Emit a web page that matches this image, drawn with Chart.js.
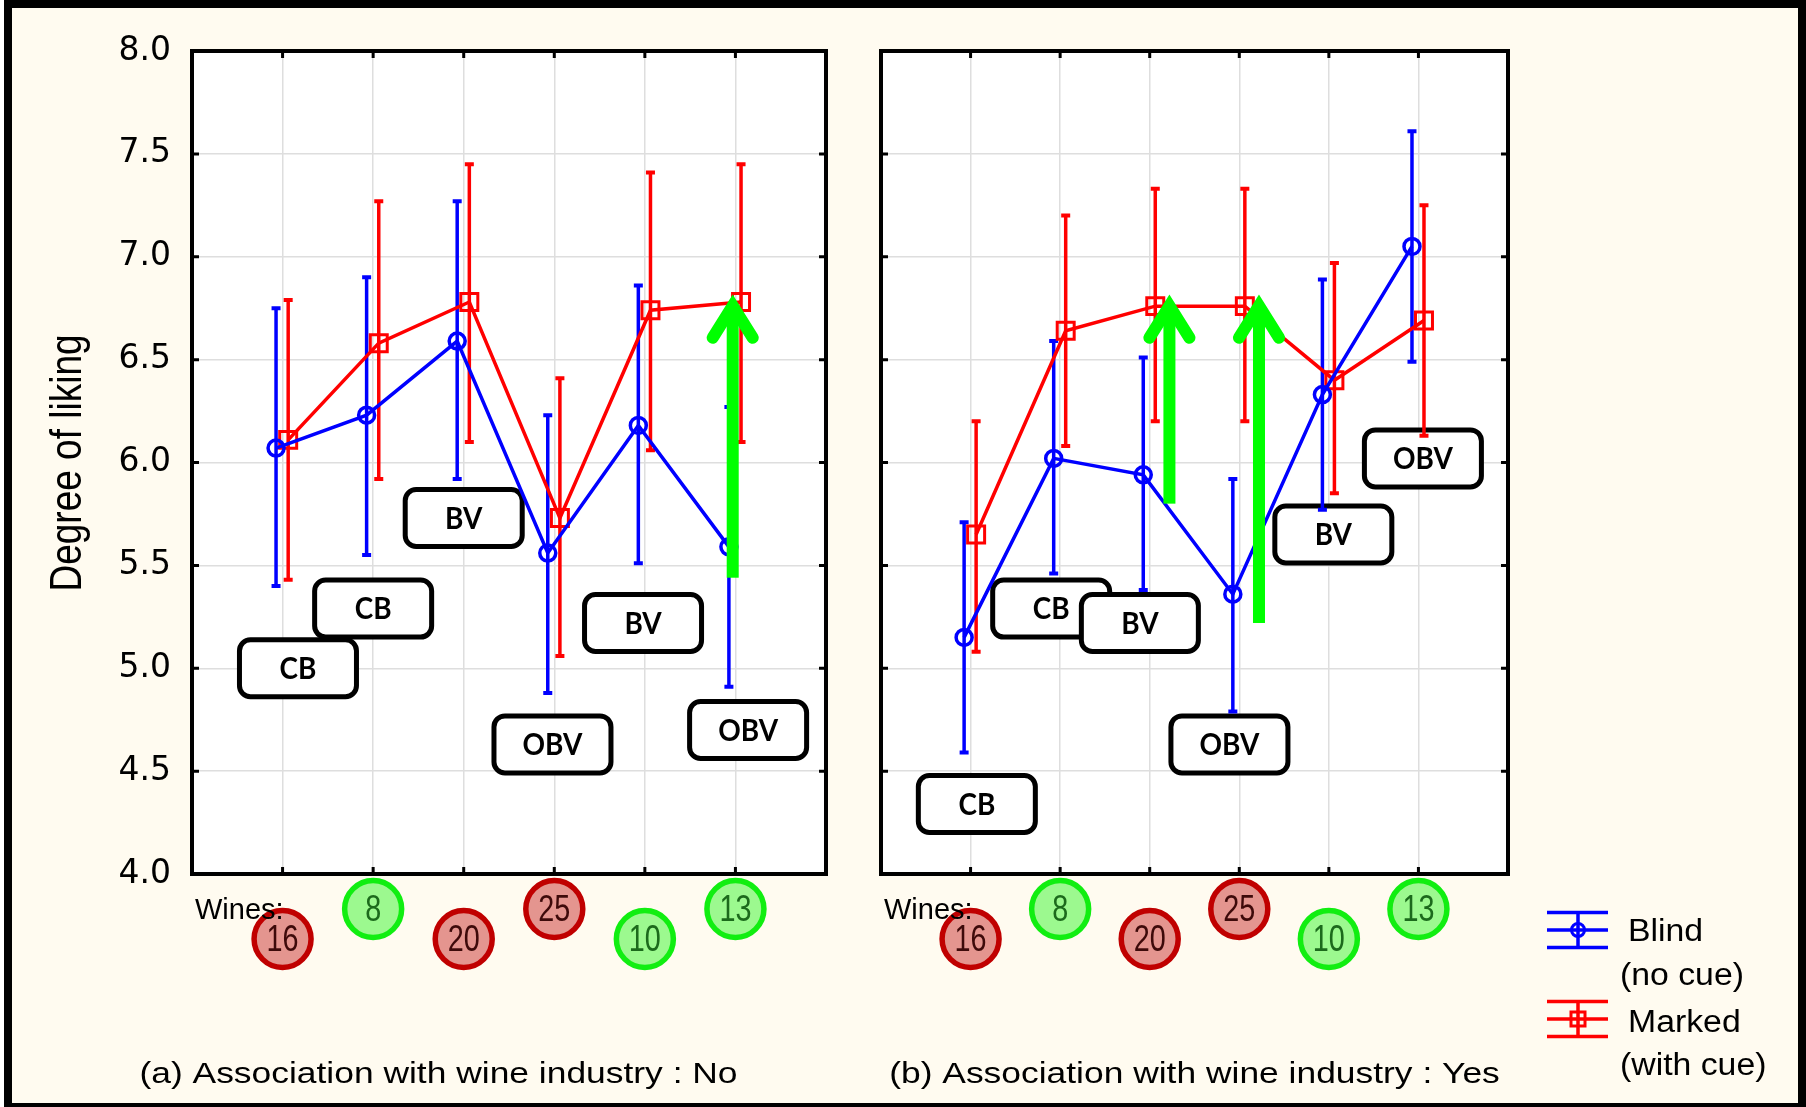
<!DOCTYPE html>
<html>
<head>
<meta charset="utf-8">
<script src="https://cdn.jsdelivr.net/npm/chart.js@4.4.1/dist/chart.umd.min.js"></script>
<style>
  html, body { margin: 0; padding: 0; width: 1806px; height: 1107px; overflow: hidden; background: #fff; }
  #frame { position: absolute; left: 4px; top: 0; width: 1786px; height: 1095px; border: 8px solid #000; background: #FFFBF0; }
  #panelA { position: absolute; left: 0; top: 0; }
  #panelB { position: absolute; left: 866px; top: 0; }
</style>
</head>
<body>
<div id="frame"></div>
<canvas id="panelA" width="877" height="1107"></canvas>
<canvas id="panelB" width="940" height="1107"></canvas>
<script>
// Wines in tasting order, their colour flag and style class
const wines = ['16', '8', '20', '25', '10', '13'];
const wineFlag = ['red', 'green', 'red', 'red', 'green', 'green'];
const wineClass = ['CB', 'CB', 'BV', 'OBV', 'BV', 'OBV'];

// Degree of liking axis
const likingTicks = [4.0, 4.5, 5.0, 5.5, 6.0, 6.5, 7.0, 7.5, 8.0];

// Series names (legend)
const blindName = ['Blind', '(no cue)'];
const markedName = ['Marked', '(with cue)'];

// Panel (a): no association with wine industry
const blindNo = [6.07, 6.23, 6.59, 5.56, 6.18, 5.59];
const blindNoLow = [5.40, 5.55, 5.92, 4.88, 5.51, 4.91];
const blindNoHigh = [6.75, 6.90, 7.27, 6.23, 6.86, 6.27];
const markedNo = [6.11, 6.58, 6.78, 5.73, 6.74, 6.78];
const markedNoLow = [5.43, 5.92, 6.10, 5.06, 6.06, 6.10];
const markedNoHigh = [6.79, 7.27, 7.45, 6.41, 7.41, 7.45];

// Panel (b): association with wine industry
const blindYes = [5.15, 6.02, 5.94, 5.36, 6.33, 7.05];
const blindYesLow = [4.59, 5.46, 5.38, 4.79, 5.77, 6.49];
const blindYesHigh = [5.71, 6.59, 6.51, 5.92, 6.89, 7.61];
const markedYes = [5.65, 6.64, 6.76, 6.76, 6.40, 6.69];
const markedYesLow = [5.08, 6.08, 6.20, 6.20, 5.85, 6.13];
const markedYesHigh = [6.20, 7.20, 7.33, 7.33, 6.97, 7.25];

// Style-class tags, anchored in data units (wine position, liking)
const tagNoAt = [1.17, 2.00, 3.00, 3.98, 4.98, 6.14];
const tagNoLevel = [5.00, 5.29, 5.73, 4.63, 5.22, 4.70];
const tagYesAt = [1.07, 1.90, 2.89, 3.89, 5.05, 6.05];
const tagYesLevel = [4.34, 5.29, 5.22, 4.63, 5.65, 6.02];

// Highlight arrows (wine position, from liking, to liking)
const arrowNoAt = [5.97];
const arrowNoFrom = [5.44];
const arrowNoTo = [6.82];
const arrowYesAt = [3.22, 4.22];
const arrowYesFrom = [5.80, 5.22];
const arrowYesTo = [6.82, 6.82];

const titleNo = '(a) Association with wine industry : No';
const titleYes = '(b) Association with wine industry : Yes';

// ---- styling ----
const BLUE = '#0000ff';
const RED = '#ff0000';
const GREEN = '#00ff00';
const GRID = '#dedede';
const SANS = '"Liberation Sans", Arial, sans-serif';
const blindShift = -0.072;
const markedShift = 0.062;

function points(values, shift) {
  return values.map((v, i) => ({ x: i + 1 + shift, y: v }));
}

function roundRectPath(ctx, x, y, w, h, r) {
  ctx.beginPath();
  ctx.moveTo(x + r, y);
  ctx.lineTo(x + w - r, y);
  ctx.arcTo(x + w, y, x + w, y + r, r);
  ctx.lineTo(x + w, y + h - r);
  ctx.arcTo(x + w, y + h, x + w - r, y + h, r);
  ctx.lineTo(x + r, y + h);
  ctx.arcTo(x, y + h, x, y + h - r, r);
  ctx.lineTo(x, y + r);
  ctx.arcTo(x, y, x + r, y, r);
  ctx.closePath();
}

function stretchedText(ctx, text, x, y, sx, align) {
  ctx.save();
  ctx.translate(x, y);
  ctx.scale(sx, 1);
  ctx.textAlign = align;
  ctx.fillText(text, 0, 0);
  ctx.restore();
}

function drawArrow(ctx, x, yTail, yTip) {
  const w = 12;
  const vy = yTip + 12;
  ctx.save();
  ctx.fillStyle = GREEN;
  ctx.fillRect(x - w / 2, vy, w, yTail - vy);
  ctx.strokeStyle = GREEN;
  ctx.lineWidth = w;
  ctx.lineCap = 'round';
  ctx.lineJoin = 'miter';
  ctx.miterLimit = 10;
  ctx.beginPath();
  ctx.moveTo(x - 20, vy + 32);
  ctx.lineTo(x, vy);
  ctx.lineTo(x + 20, vy + 32);
  ctx.stroke();
  ctx.restore();
}

function legendSymbol(ctx, cx, cy, colour, marker) {
  ctx.save();
  ctx.strokeStyle = colour;
  ctx.lineWidth = 3.5;
  ctx.beginPath();
  [-17.5, 0, 17.5].forEach(dy => { ctx.moveTo(cx - 31, cy + dy); ctx.lineTo(cx + 30, cy + dy); });
  ctx.moveTo(cx, cy - 17.5); ctx.lineTo(cx, cy + 17.5);
  ctx.stroke();
  ctx.lineWidth = 3;
  ctx.beginPath();
  if (marker === 'circle') ctx.arc(cx, cy, 6.5, 0, Math.PI * 2);
  else ctx.rect(cx - 7, cy - 7, 14, 14);
  ctx.stroke();
  ctx.restore();
}

// Draws frame, inside ticks, error bars, tags, arrows, wine badges, titles and legend
const panelDecor = {
  id: 'panelDecor',
  beforeDraw(chart) {
    const { ctx, chartArea: a } = chart;
    ctx.save();
    ctx.fillStyle = '#ffffff';
    ctx.fillRect(a.left, a.top, a.right - a.left, a.bottom - a.top);
    ctx.restore();
  },
  beforeDatasetsDraw(chart, args, o) {
    const { ctx, scales: { x, y } } = chart;
    // style-class tags
    ctx.save();
    o.tagAt.forEach((t, i) => {
      const cx = x.getPixelForValue(t);
      const cy = y.getPixelForValue(o.tagLevel[i]);
      const w = 117, h = 57;
      roundRectPath(ctx, cx - w / 2, cy - h / 2, w, h, 11);
      ctx.fillStyle = '#ffffff';
      ctx.fill();
      ctx.lineWidth = 5;
      ctx.strokeStyle = '#000000';
      ctx.stroke();
      ctx.fillStyle = '#000000';
      ctx.font = 'bold 30px Lato, "Liberation Sans", sans-serif';
      ctx.textBaseline = 'middle';
      stretchedText(ctx, wineClass[i], cx, cy + 1, 0.93, 'center');
    });
    ctx.restore();
    // error bars
    chart.data.datasets.forEach((ds, d) => {
      const meta = chart.getDatasetMeta(d);
      ctx.save();
      ctx.strokeStyle = ds.borderColor;
      meta.data.forEach((pt, j) => {
        const yl = y.getPixelForValue(ds.low[j]);
        const yh = y.getPixelForValue(ds.high[j]);
        ctx.lineWidth = 3.5;
        ctx.beginPath();
        ctx.moveTo(pt.x, yl); ctx.lineTo(pt.x, yh);
        ctx.stroke();
        ctx.lineWidth = 4;
        ctx.beginPath();
        ctx.moveTo(pt.x - 4.5, yl); ctx.lineTo(pt.x + 4.5, yl);
        ctx.moveTo(pt.x - 4.5, yh); ctx.lineTo(pt.x + 4.5, yh);
        ctx.stroke();
      });
      ctx.restore();
    });
  },
  afterDatasetsDraw(chart, args, o) {
    const { ctx, scales: { x, y } } = chart;
    o.arrowAt.forEach((v, i) => {
      drawArrow(ctx, x.getPixelForValue(v), y.getPixelForValue(o.arrowFrom[i]), y.getPixelForValue(o.arrowTo[i]));
    });
  },
  afterDraw(chart, args, o) {
    const { ctx, chartArea: a, scales: { x, y } } = chart;
    ctx.save();
    // plot frame and inward ticks
    ctx.strokeStyle = '#000000';
    ctx.lineWidth = 4;
    ctx.strokeRect(a.left, a.top, a.right - a.left, a.bottom - a.top);
    ctx.lineWidth = 3;
    ctx.beginPath();
    y.ticks.forEach(t => {
      if (t.value <= y.min || t.value >= y.max) return;
      const py = y.getPixelForValue(t.value);
      ctx.moveTo(a.left, py); ctx.lineTo(a.left + 7, py);
      ctx.moveTo(a.right, py); ctx.lineTo(a.right - 7, py);
    });
    wines.forEach((w, i) => {
      const px = x.getPixelForValue(i + 1);
      ctx.moveTo(px, a.top); ctx.lineTo(px, a.top + 7);
      ctx.moveTo(px, a.bottom); ctx.lineTo(px, a.bottom - 7);
    });
    ctx.stroke();

    // wine badges
    wines.forEach((w, i) => {
      const cx = x.getPixelForValue(i + 1);
      const cy = a.bottom + (i % 2 === 0 ? 65 : 35);
      const isRed = wineFlag[i] === 'red';
      ctx.beginPath();
      ctx.arc(cx, cy, 28.5, 0, Math.PI * 2);
      ctx.fillStyle = isRed ? '#e4958f' : '#9cf98f';
      ctx.fill();
      ctx.lineWidth = 5.5;
      ctx.strokeStyle = isRed ? '#c00000' : '#11ee11';
      ctx.stroke();
      ctx.fillStyle = isRed ? '#3e0a0a' : '#1c6a1c';
      ctx.font = '36px ' + SANS;
      ctx.textBaseline = 'middle';
      stretchedText(ctx, w, cx, cy + 2, 0.8, 'center');
    });
    ctx.fillStyle = '#000000';
    ctx.font = '29px ' + SANS;
    ctx.textBaseline = 'alphabetic';
    stretchedText(ctx, 'Wines:', a.left + 3, a.bottom + 45, 1, 'left');

    // panel caption
    ctx.font = '30px ' + SANS;
    const tx = o.captionAtCanvasCentre ? chart.width / 2 : (a.left + a.right) / 2;
    stretchedText(ctx, o.caption, tx, 1083, 1.18, 'center');

    // axis title
    if (o.axisTitle) {
      ctx.save();
      ctx.translate(69, 463);
      ctx.rotate(-Math.PI / 2);
      ctx.scale(1, 1.18);
      ctx.font = '37px ' + SANS;
      ctx.textAlign = 'center';
      ctx.textBaseline = 'middle';
      ctx.fillText(o.axisTitle, 0, 0);
      ctx.restore();
    }

    // legend
    if (o.legend) {
      const ds = chart.data.datasets;
      const sx = a.right + 70;
      legendSymbol(ctx, sx, a.bottom + 56, ds[0].borderColor, 'circle');
      legendSymbol(ctx, sx, a.bottom + 145, ds[1].borderColor, 'rect');
      ctx.fillStyle = '#000000';
      ctx.font = '31px ' + SANS;
      ctx.textBaseline = 'alphabetic';
      stretchedText(ctx, blindName[0], a.right + 120, a.bottom + 67, 1.09, 'left');
      stretchedText(ctx, blindName[1], a.right + 112, a.bottom + 111, 1.09, 'left');
      stretchedText(ctx, markedName[0], a.right + 120, a.bottom + 158, 1.09, 'left');
      stretchedText(ctx, markedName[1], a.right + 112, a.bottom + 201, 1.09, 'left');
    }
    ctx.restore();
  }
};

function panel(id, cfg) {
  return new Chart(document.getElementById(id), {
    type: 'line',
    data: {
      datasets: [
        {
          label: blindName.join(' '),
          data: points(cfg.blind, blindShift),
          low: cfg.blindLow, high: cfg.blindHigh,
          borderColor: BLUE, borderWidth: 3.5, tension: 0,
          pointStyle: 'circle', pointRadius: 8, pointBorderWidth: 3.5,
          pointBorderColor: BLUE, pointBackgroundColor: 'rgba(0,0,0,0)'
        },
        {
          label: markedName.join(' '),
          data: points(cfg.marked, markedShift),
          low: cfg.markedLow, high: cfg.markedHigh,
          borderColor: RED, borderWidth: 3.5, tension: 0,
          pointStyle: 'rect', pointRadius: 12, pointBorderWidth: 3,
          pointBorderColor: RED, pointBackgroundColor: 'rgba(0,0,0,0)'
        }
      ]
    },
    options: {
      responsive: false,
      animation: false,
      events: [],
      layout: { padding: { left: 0, top: 51, right: cfg.padRight, bottom: 0 } },
      plugins: {
        legend: { display: false },
        tooltip: { enabled: false },
        panelDecor: cfg.decor
      },
      scales: {
        x: {
          type: 'linear', min: 0, max: 7,
          ticks: { display: false, stepSize: 1 },
          grid: { color: GRID, lineWidth: 1.5, drawTicks: false },
          border: { display: false },
          afterFit: s => { s.height = 233; }
        },
        y: {
          type: 'linear', min: 4, max: 8,
          afterBuildTicks: s => { s.ticks = likingTicks.map(v => ({ value: v })); },
          ticks: {
            display: cfg.showTicks,
            callback: v => v.toFixed(1),
            font: { family: '"DejaVu Sans"', size: 33 },
            color: '#000000',
            padding: 21
          },
          grid: { color: GRID, lineWidth: 1.5, drawTicks: false },
          border: { display: false },
          afterFit: s => { s.width = cfg.axisWidth; }
        }
      }
    },
    plugins: [panelDecor]
  });
}

panel('panelA', {
  blind: blindNo, blindLow: blindNoLow, blindHigh: blindNoHigh,
  marked: markedNo, markedLow: markedNoLow, markedHigh: markedNoHigh,
  padRight: 51, axisWidth: 192, showTicks: true,
  decor: {
    tagAt: tagNoAt, tagLevel: tagNoLevel,
    arrowAt: arrowNoAt, arrowFrom: arrowNoFrom, arrowTo: arrowNoTo,
    caption: titleNo, captionAtCanvasCentre: true,
    axisTitle: 'Degree of liking', legend: false
  }
});

panel('panelB', {
  blind: blindYes, blindLow: blindYesLow, blindHigh: blindYesHigh,
  marked: markedYes, markedLow: markedYesLow, markedHigh: markedYesHigh,
  padRight: 298, axisWidth: 10, showTicks: false,
  decor: {
    tagAt: tagYesAt, tagLevel: tagYesLevel,
    arrowAt: arrowYesAt, arrowFrom: arrowYesFrom, arrowTo: arrowYesTo,
    caption: titleYes, captionAtCanvasCentre: false,
    axisTitle: null, legend: true
  }
});
</script>
</body>
</html>
